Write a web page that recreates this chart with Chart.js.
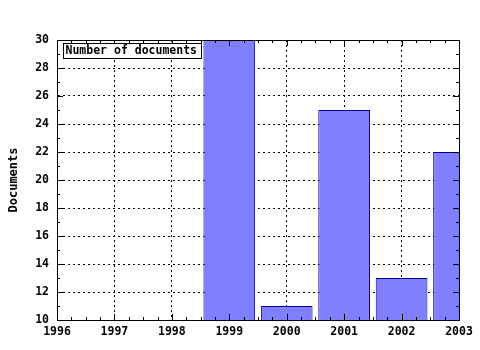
<!DOCTYPE html>
<html>
<head>
<meta charset="utf-8">
<script src="https://cdn.jsdelivr.net/npm/chart.js@4"></script>
<style>
  html, body { margin: 0; padding: 0; background: #fff; }
  #wrap { width: 480px; height: 350px; }
</style>
</head>
<body>
<div id="wrap"><canvas id="chart" width="480" height="350"></canvas></div>
<script>
// data
const years = [1999, 2000, 2001, 2002, 2003];
const documents = [30, 11, 25, 13, 22];
const seriesLabel = 'Number of documents';
const yTitle = 'Documents';
const xMin = 1996, xMax = 2003;
const yMin = 10, yMax = 30, yStep = 2;

const FONT = { family: '"DejaVu Sans Mono", monospace', size: 11.5, weight: 'bold' };

// frame, small ticks and the boxed legend in the top left corner
const framePlugin = {
    id: 'frame',
    afterDatasetsDraw(chart) {
        const ctx = chart.ctx;
        const a = chart.chartArea;
        const xs = chart.scales.x;
        const ys = chart.scales.y;
        ctx.save();
        ctx.strokeStyle = '#000';
        ctx.lineWidth = 1;
        ctx.setLineDash([]);
        ctx.strokeRect(Math.round(a.left) + 0.5, Math.round(a.top) + 0.5,
            Math.round(a.right - a.left), Math.round(a.bottom - a.top));
        ctx.beginPath();
        // ticks on bottom and top edges
        for (let v = xMin; v <= xMax; v += 0.25) {
            const px = Math.round(xs.getPixelForValue(v)) + 0.5;
            const len = Number.isInteger(v) ? 6 : 3;
            ctx.moveTo(px, a.bottom); ctx.lineTo(px, a.bottom - len);
            ctx.moveTo(px, a.top); ctx.lineTo(px, a.top + len);
        }
        // ticks on left and right edges
        for (let v = yMin; v <= yMax; v += yStep / 2) {
            const py = Math.round(ys.getPixelForValue(v)) + 0.5;
            const len = (v - yMin) % yStep === 0 ? 6 : 3;
            ctx.moveTo(a.left, py); ctx.lineTo(a.left + len, py);
            ctx.moveTo(a.right, py); ctx.lineTo(a.right - len, py);
        }
        ctx.stroke();

        // legend box
        ctx.font = `${FONT.weight} ${FONT.size}px ${FONT.family}`;
        const label = chart.data.datasets[0].label;
        const w = Math.ceil(ctx.measureText(label).width) + 6;
        const bx = Math.round(a.left) + 6.5, by = Math.round(a.top) + 3.5;
        ctx.fillStyle = '#fff';
        ctx.fillRect(bx, by, w, 15);
        ctx.strokeRect(bx, by, w, 15);
        ctx.fillStyle = '#000';
        ctx.textBaseline = 'middle';
        ctx.fillText(label, bx + 2, by + 8);
        ctx.restore();
    }
};

new Chart(document.getElementById('chart'), {
    type: 'bar',
    data: {
        datasets: [{
            label: seriesLabel,
            data: years.map((y, i) => ({ x: y, y: documents[i] })),
            backgroundColor: '#8080ff',
            borderColor: '#000099',
            borderWidth: 1,
            borderSkipped: false,
            barPercentage: 0.9,
            categoryPercentage: 1
        }]
    },
    options: {
        responsive: false,
        animation: false,
        layout: { padding: { top: 40, right: 21, left: 0, bottom: 0 } },
        plugins: {
            legend: { display: false },
            tooltip: { enabled: false }
        },
        scales: {
            x: {
                type: 'linear',
                min: xMin,
                max: xMax,
                offset: false,
                afterFit(s) { s.height = 30; },
                ticks: {
                    stepSize: 1,
                    color: '#000',
                    font: FONT,
                    padding: 5,
                    maxRotation: 0,
                    callback: v => String(v)
                },
                grid: {
                    offset: false,
                    color: '#000',
                    lineWidth: 1,
                    drawTicks: false
                },
                border: { display: true, color: '#000', dash: [2, 3] }
            },
            y: {
                min: yMin,
                max: yMax,
                afterFit(s) { s.width = 57; },
                ticks: {
                    stepSize: yStep,
                    color: '#000',
                    font: FONT,
                    padding: 8
                },
                grid: {
                    color: '#000',
                    lineWidth: 1,
                    drawTicks: false
                },
                border: { display: true, color: '#000', dash: [2, 3] },
                title: {
                    display: true,
                    text: yTitle,
                    color: '#000',
                    font: { family: FONT.family, size: 12, weight: 'bold' },
                    padding: { top: 7, bottom: 4 }
                }
            }
        }
    },
    plugins: [framePlugin]
});
</script>
</body>
</html>
